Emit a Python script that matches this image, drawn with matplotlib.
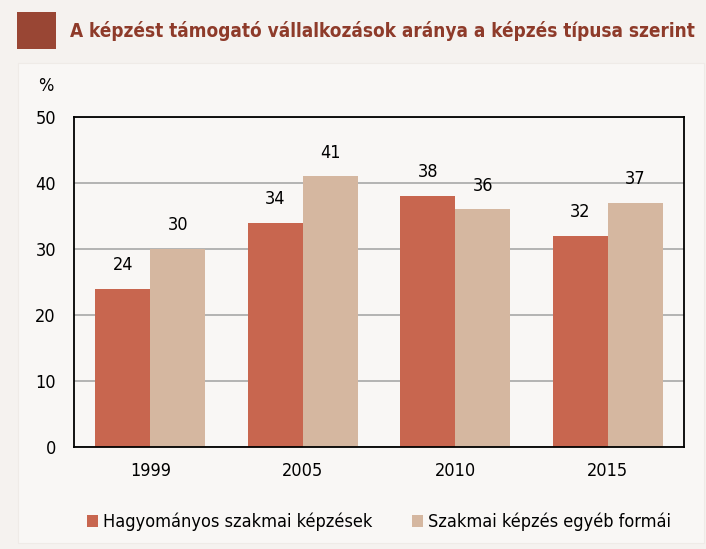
import matplotlib.pyplot as plt
import numpy as np
from matplotlib.patches import Rectangle

years = ['1999', '2005', '2010', '2015']
hagyomanyos = [24, 34, 38, 32]
egyeb = [30, 41, 36, 37]
series_names = ['Hagyományos szakmai képzések', 'Szakmai képzés egyéb formái']
title = 'A képzést támogató vállalkozások aránya a képzés típusa szerint'

red = '#c8664f'
beige = '#d5b7a0'
outer_bg = '#f5f2ef'
panel_bg = '#f9f7f5'

plt.rcParams['font.family'] = ['DejaVu Sans']
plt.rcParams['font.stretch'] = 'condensed'

fig = plt.figure(figsize=(7.06, 5.49), dpi=100)
fig.patch.set_facecolor(outer_bg)

W, H = 706, 549
# light panel behind the chart
fig.patches.append(Rectangle((18 / W, 1 - 543 / H), 686 / W, 480 / H, transform=fig.transFigure,
                             facecolor=panel_bg, edgecolor='#efebe7', linewidth=0.8, zorder=-5))
# title square
fig.patches.append(Rectangle((17 / W, 1 - 49 / H), 39 / W, 37 / H, transform=fig.transFigure,
                             facecolor='#994634', edgecolor='none', zorder=-4))
fig.text(70 / W, 1 - 31 / H, title, fontsize=13.6, fontweight='bold', color='#8e3b2a',
         va='center', ha='left')

ax = fig.add_axes([74 / W, 1 - 447 / H, 610 / W, 330 / H], zorder=2)
ax.set_facecolor(panel_bg)

x = np.arange(len(years))
w = 0.36
b1 = ax.bar(x - w / 2, hagyomanyos, w, color=red, label=series_names[0], zorder=2)
b2 = ax.bar(x + w / 2, egyeb, w, color=beige, label=series_names[1], zorder=2)

for bars in (b1, b2):
    for rect in bars:
        ax.text(rect.get_x() + rect.get_width() / 2, rect.get_height() + 3.6,
                str(int(rect.get_height())), ha='center', va='center', fontsize=13)

ax.set_ylim(0, 50)
ax.set_xlim(-0.5, 3.5)
ax.set_yticks(range(0, 51, 10))
ax.set_xticks(x)
ax.set_xticklabels(years)
ax.yaxis.grid(True, color='#a8a8a8', linewidth=1.2, zorder=0)
ax.set_axisbelow(True)
ax.tick_params(axis='both', length=0, labelsize=13)
ax.tick_params(axis='x', pad=11)
ax.tick_params(axis='y', pad=13)
for s in ax.spines.values():
    s.set_color('black')
    s.set_linewidth(1.3)

fig.text(46 / W, 1 - 86 / H, '%', fontsize=13, ha='center', va='center')

fig.legend(handles=[b1, b2], loc='center', bbox_to_anchor=(379 / W, 1 - 522 / H), ncol=2,
           frameon=False, fontsize=13, handlelength=0.6, handleheight=0.6,
           handletextpad=0.3, columnspacing=2.2)

fig.savefig('out.png', dpi=100, facecolor=fig.get_facecolor())
